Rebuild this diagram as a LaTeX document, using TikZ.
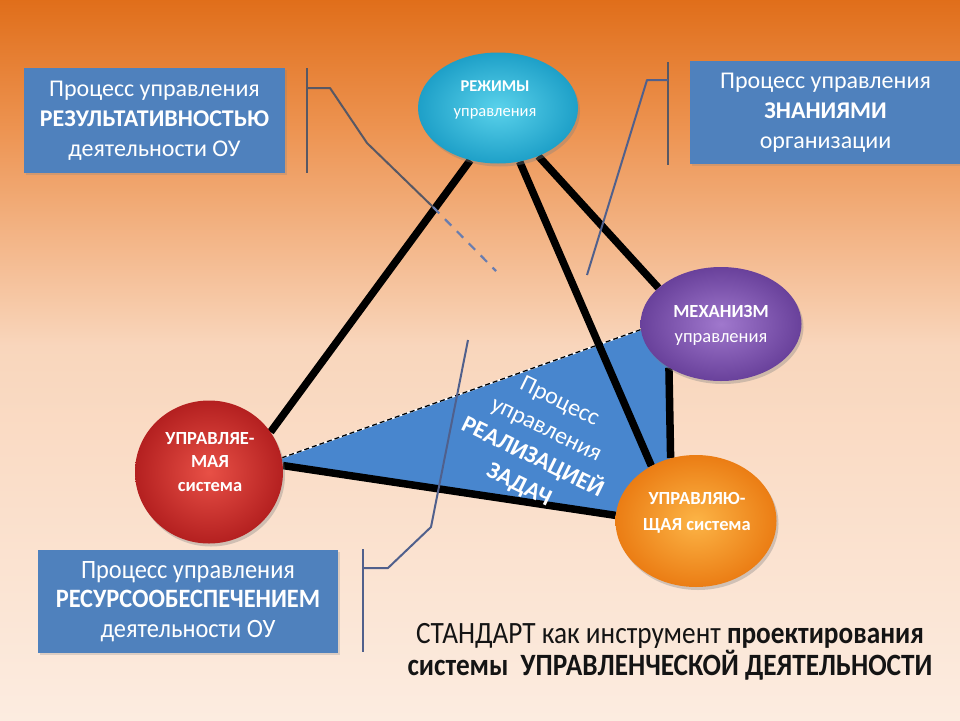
\documentclass[tikz,border=0pt]{standalone}
\usepackage{fontspec}
\setmainfont{Carlito}
\newfontfamily\narrowfont[FakeStretch=0.92]{Carlito}
\newfontfamily\captionfont[FakeStretch=0.88]{Carlito}
\usetikzlibrary{shapes.geometric,shadows,backgrounds}
\definecolor{bgTop}{RGB}{224,110,26}
\definecolor{bgA}{RGB}{237,148,82}
\definecolor{bgB}{RGB}{249,214,188}
\definecolor{bgBot}{RGB}{252,236,224}
\definecolor{boxblue}{RGB}{79,129,189}
\definecolor{triblue}{RGB}{72,134,206}
\definecolor{brgray}{RGB}{88,88,100}
\definecolor{brblue}{RGB}{80,96,140}
\definecolor{dashblue}{RGB}{105,125,175}
\definecolor{cyanA}{RGB}{90,210,235}
\definecolor{cyanB}{RGB}{30,160,200}
\definecolor{purA}{RGB}{160,120,205}
\definecolor{purB}{RGB}{105,65,155}
\definecolor{orA}{RGB}{252,180,70}
\definecolor{orB}{RGB}{235,125,20}
\definecolor{redA}{RGB}{232,80,70}
\definecolor{redB}{RGB}{180,32,32}
\pgfdeclarelayer{back}
\pgfdeclarelayer{links}
\pgfsetlayers{back,links,main}
\tikzset{
  infobox/.style={fill=boxblue, text=white, align=center, inner sep=0pt,
    drop shadow={opacity=0.25, shadow xshift=1.5pt, shadow yshift=-1.5pt},
    font=\fontsize{24}{30}\selectfont},
  bubble/.style={ellipse, draw=none, inner sep=0pt,
    drop shadow={opacity=0.35, shadow xshift=2pt, shadow yshift=-3pt}},
  bubtext/.style={text=white, align=center, inner sep=0pt,
    font=\fontsize{18.5}{25}\selectfont\bfseries},
  link/.style={line width=7.5pt, black},
  bracketline/.style={line width=2pt, brgray},
  bracketblue/.style={line width=2pt, brblue},
}
\begin{document}
\begin{tikzpicture}[x=1pt,y=-1pt]
\useasboundingbox (0,0) rectangle (960,720);
\begin{pgfonlayer}{back}
  \shade[top color=bgTop, bottom color=bgA] (0,-1) rectangle (960,131);
  \shade[top color=bgA, bottom color=bgB] (0,130) rectangle (960,346);
  \shade[top color=bgB, bottom color=bgBot] (0,345) rectangle (960,721);
\end{pgfonlayer}

% info boxes
\node[infobox, minimum width=261pt, minimum height=105pt] (b1) at (154.5,120.5)
  {Процесс управления\\ \textbf{РЕЗУЛЬТАТИВНОСТЬЮ}\\ деятельности ОУ};
\node[infobox, minimum width=271pt, minimum height=103pt] (b2) at (825.5,112.5)
  {Процесс управления\\ \textbf{ЗНАНИЯМИ}\\ организации};
\node[infobox, minimum width=300pt, minimum height=103pt, font=\narrowfont\fontsize{26.5}{29.5}\selectfont] (b3) at (188,601.5)
  {Процесс управления\\ \textbf{РЕСУРСООБЕСПЕЧЕНИЕМ}\\ деятельности ОУ};

% bubbles
\node[bubble, minimum width=160pt, minimum height=111pt,
  inner color=cyanA, outer color=cyanB] (rezh) at (498,108) {};
\node[bubble, minimum width=161pt, minimum height=114pt,
  inner color=purA, outer color=purB] (mech) at (721,324) {};
\node[bubble, minimum width=161pt, minimum height=132pt,
  inner color=orA, outer color=orB] (ctrl) at (696,521) {};
\node[bubble, minimum width=148pt, minimum height=143pt,
  inner color=redA, outer color=redB] (managed) at (209,472) {};

\node[bubtext, font=\fontsize{16.5}{25}\selectfont\bfseries] (rezh-t) at (495,100)
  {РЕЖИМЫ\\ \mdseries управления};
\node[bubtext] (mech-t) at (721,325)
  {МЕХАНИЗМ\\ \mdseries управления};
\node[bubtext, font=\fontsize{18.5}{26}\selectfont\bfseries] (ctrl-t) at (697,513)
  {УПРАВЛЯЮ-\\ ЩАЯ система};
\node[bubtext, font=\fontsize{18.5}{23.5}\selectfont\bfseries] (managed-t) at (210,462)
  {УПРАВЛЯЕ-\\ МАЯ\\ система};

% triangle, links
\begin{pgfonlayer}{links}
  \fill[triblue] (managed.11) -- (mech.-176) -- (mech.-140) -- (ctrl.112)
     -- (ctrl.176) -- (managed.5) -- cycle;
  \draw[white, line width=1.6pt] (managed.11) -- (mech.-176);
  \draw[black, line width=1.3pt, dash pattern=on 5pt off 3pt] (managed.11) -- (mech.-176);
  \draw[link] (rezh.-118) -- (managed.33);
  \draw[link] (rezh.-68) -- (ctrl.129);
  \draw[link] (rezh.-50) -- (mech.150);
  \draw[link] (managed.5) -- (ctrl.176);
  \draw[link] (mech.-140) -- (ctrl.112);

  % bracket 1
  \coordinate (k1a) at (330,88);
  \coordinate (k1b) at (367,143);
  \coordinate (k1c) at (433,207);
  \coordinate (k1d) at (496,271);
  \draw[bracketline] (307,68) -- (307,173);
  \draw[bracketline, line join=round] (307,88) -- (k1a) -- (k1b) -- (k1c);
  \draw[dashblue, line width=2.2pt, dash pattern=on 9pt off 8pt] (k1c) -- (k1d);

  % bracket 2
  \coordinate (k2a) at (647,80);
  \coordinate (k2b) at (587,275);
  \draw[bracketline] (668,62) -- (668,165);
  \draw[bracketblue, line join=round] (668,80) -- (k2a) -- (k2b);

  % bracket 3
  \coordinate (k3a) at (388,568);
  \coordinate (k3b) at (431,527);
  \coordinate (k3c) at (468,340);
  \draw[bracketblue] (363,549) -- (363,652);
  \draw[bracketblue, line join=round] (363,568) -- (k3a) -- (k3b) -- (k3c);
\end{pgfonlayer}

% triangle caption
\node[text=white, align=center, rotate=-26, font=\fontsize{24}{31}\selectfont] (tricap) at (539,444)
  {Процесс\\ управления\\ \textbf{РЕАЛИЗАЦИЕЙ}\\ \textbf{ЗАДАЧ}};

% bottom caption
\node[text=black!92, align=center, font=\captionfont\fontsize{31}{32}\selectfont] (caption) at (670,652)
  {СТАНДАРТ как инструмент \textbf{проектирования}\\ \textbf{системы\ \ УПРАВЛЕНЧЕСКОЙ ДЕЯТЕЛЬНОСТИ}};
\end{tikzpicture}
\end{document}
